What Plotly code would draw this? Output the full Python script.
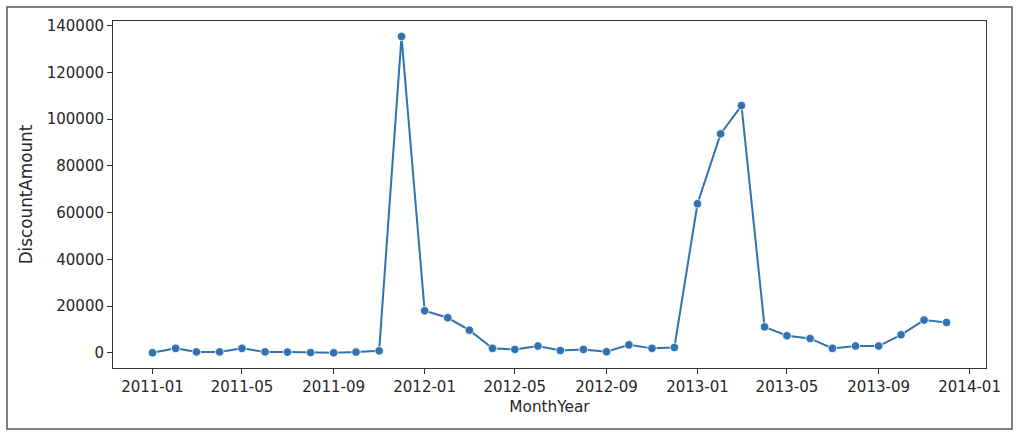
import plotly.graph_objects as go
import pandas as pd

months = pd.date_range("2011-01-01", "2013-12-01", freq="MS")
discount_amount = [
    0, 1900, 400, 400, 1900, 400, 300, 100, 0, 300, 850, 135400,
    18000, 15000, 9700, 1900, 1450, 2900, 1000, 1450, 450, 3400, 1900, 2300,
    63800, 93700, 105800, 11100, 7300, 6150, 1900, 2900, 2900, 7700, 14000, 13000,
]
x_ticks = ["2011-01-01", "2011-05-01", "2011-09-01", "2012-01-01", "2012-05-01",
           "2012-09-01", "2013-01-01", "2013-05-01", "2013-09-01", "2014-01-01"]
x_tick_text = ["2011-01", "2011-05", "2011-09", "2012-01", "2012-05",
               "2012-09", "2013-01", "2013-05", "2013-09", "2014-01"]
y_ticks = [0, 20000, 40000, 60000, 80000, 100000, 120000, 140000]

color = "#3172b0"
fig = go.Figure()
fig.add_trace(go.Scatter(
    x=months, y=discount_amount, mode="lines+markers",
    line=dict(color=color, width=2),
    marker=dict(color=color, size=8.5, line=dict(color="white", width=0.8)),
    showlegend=False,
))

W, H = 1024, 438
L, R, T, B = 113, 38, 21, 70
pw, ph = W - L - R, H - T - B

def px_x(p):
    return (p - L) / pw

def px_y(p):
    return (H - B - p) / ph

font = dict(family="DejaVu Sans", size=15, color="#262626")
xtitle_font = dict(family="DejaVu Sans", size=15.3, color="#262626")
ytitle_font = dict(family="DejaVu Sans", size=16.8, color="#262626")
fig.update_layout(
    width=W, height=H,
    margin=dict(l=L, r=R, t=T, b=B, pad=0),
    paper_bgcolor="white", plot_bgcolor="white",
    font=font,
    xaxis=dict(
        range=["2010-11-09", "2014-01-23"],
        tickvals=x_ticks, ticktext=x_tick_text,
        ticks="outside", ticklen=5, tickcolor="#333333", tickwidth=1,
        showgrid=False, zeroline=False, automargin=False,
        showline=True, linecolor="#333333", linewidth=1, mirror=True,
        title=dict(text="MonthYear", font=xtitle_font, standoff=6),
        tickfont=font,
    ),
    yaxis=dict(
        range=[-6500, 142000],
        tickvals=y_ticks, tickformat="d",
        ticks="outside", ticklen=5, tickcolor="#333333", tickwidth=1,
        showgrid=False, zeroline=False, automargin=False,
        showline=True, linecolor="#333333", linewidth=1, mirror=True,
        title=dict(text="DiscountAmount", font=ytitle_font, standoff=9),
        tickfont=font,
    ),
    shapes=[dict(
        type="rect", xref="paper", yref="paper",
        x0=px_x(7), x1=px_x(1012), y0=px_y(429), y1=px_y(7),
        line=dict(color="#555555", width=1.5), fillcolor="rgba(0,0,0,0)",
        layer="below",
    )],
)
fig.write_html("out.html", config={"displayModeBar": False},
               post_script="document.body.style.margin='0';")
